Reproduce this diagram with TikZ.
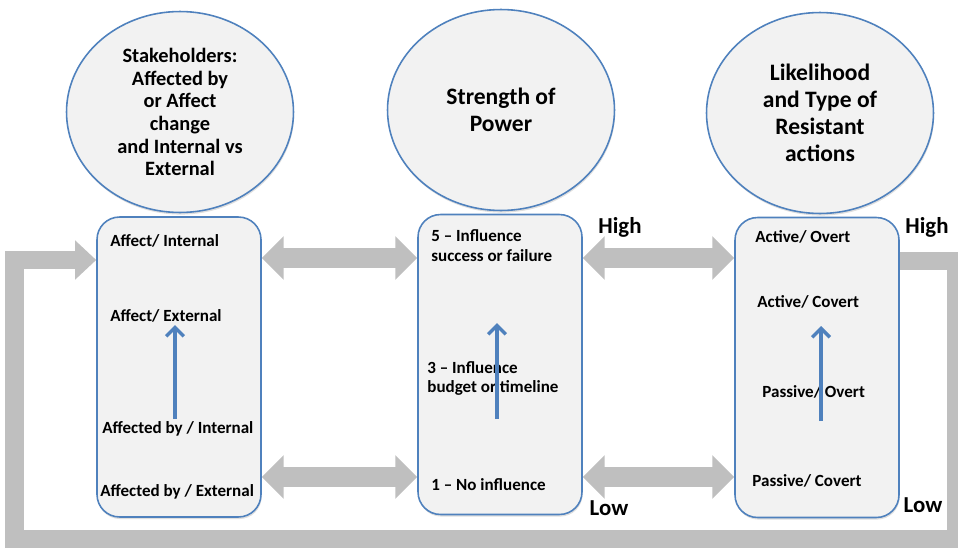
\documentclass[tikz,border=0pt]{standalone}
\usepackage{fontspec}
\setmainfont{Carlito}
\usetikzlibrary{shapes.geometric, arrows.meta, shadows, positioning}

\definecolor{paleface}{HTML}{F2F2F2}
\definecolor{rimblue}{HTML}{4F81BD}
\definecolor{bandgray}{HTML}{BFBFBF}

\begin{document}
\begin{tikzpicture}[x=0.02cm, y=-0.02cm,
    oval/.style={ellipse, draw=rimblue, line width=0.9pt, fill=paleface, minimum width=4.54cm, minimum height=4.02cm, align=center, inner sep=0pt, drop shadow={opacity=0.25, shadow xshift=0.4pt, shadow yshift=-1.2pt}},
    scalebox/.style={rectangle, rounded corners=0.45cm, draw=rimblue, line width=0.9pt, fill=paleface, minimum width=3.28cm, minimum height=6cm, drop shadow={opacity=0.25, shadow xshift=0.4pt, shadow yshift=-1.2pt}},
    item/.style={font=\fontsize{9.7}{11}\selectfont\bfseries, anchor=west, inner sep=0pt, align=left},
    level/.style={font=\fontsize{13}{15}\selectfont\bfseries, inner sep=0pt},
    twoway/.style={bandgray, line width=11.9pt, {Triangle[width=24pt,length=12.5pt]}-{Triangle[width=24pt,length=12.5pt]}},
    loopback/.style={bandgray, line width=10.8pt, line join=miter, -{Triangle[width=21.6pt,length=12pt]}},
    rise/.style={rimblue, line width=2pt, -{Straight Barb[length=5pt,width=10pt]}}
  ]
  \useasboundingbox (0,0) rectangle (958,548);

  % headings
  \node[oval, font=\fontsize{11.6}{12.9}\selectfont\bfseries] (stake) at (180,112) {Stakeholders:\\Affected by\\or Affect\\change\\and Internal vs\\External};
  \node[oval, font=\fontsize{13.4}{15.4}\selectfont\bfseries] (power) at (501,110) {Strength of\\Power};
  \node[oval, font=\fontsize{13.4}{15.4}\selectfont\bfseries] (resist) at (820,113) {Likelihood\\and Type of\\Resistant\\actions};

  % feedback band round the outside
  \node[scalebox] (b1) at (179,367) {};
  \node[scalebox] (b2) at (500,364.5) {};
  \node[scalebox] (b3) at (817,367.5) {};
  \draw[loopback] (b3.east |- 0,261) -- (956,261) -- (956,539.5) -- (14.5,539.5) -- (14.5,260) -- (b1.west |- 0,260);

  % stakeholder scale
  \node[item] (s4) at (110,241) {Affect/ Internal};
  \node[item] (s3) at (110,316) {Affect/ External};
  \node[item] (s2) at (102,429) {Affected by / Internal};
  \node[item] (s1) at (100,492) {Affected by / External};

  % power scale
  \node[item] (p5) at (431,245.5) {5 -- Influence\\success or failure};
  \node[item] (p3) at (427,378.5) {3 -- Influence\\budget or timeline};
  \node[item] (p1) at (431,485) {1 -- No influence};

  % resistance scale
  \node[item] (r4) at (755,237) {Active/ Overt};
  \node[item] (r3) at (757,302) {Active/ Covert};
  \node[item] (r2) at (762,392) {Passive/ Overt};
  \node[item] (r1) at (752,481) {Passive/ Covert};

  % rising arrows
  \coordinate (sLo) at (175,419);
  \coordinate (sHi) at (175,325);
  \coordinate (pLo) at (497,419);
  \coordinate (pHi) at (497,323);
  \coordinate (rLo) at (821,421);
  \coordinate (rHi) at (821,326);
  \draw[rise] (sLo) -- (sHi);
  \draw[rise] (pLo) -- (pHi);
  \draw[rise] (rLo) -- (rHi);

  % links between the scales
  \draw[twoway] (b1.east |- 0,258) -- (b2.west |- 0,258);
  \draw[twoway] (b1.east |- 0,477) -- (b2.west |- 0,477);
  \draw[twoway] (b2.east |- 0,258) -- (b3.west |- 0,258);
  \draw[twoway] (b2.east |- 0,477) -- (b3.west |- 0,477);

  \node[level] (hi1) at (620,227) {High};
  \node[level] (lo1) at (609,508) {Low};
  \node[level] (hi2) at (927,227) {High};
  \node[level] (lo2) at (923,505) {Low};
\end{tikzpicture}
\end{document}
